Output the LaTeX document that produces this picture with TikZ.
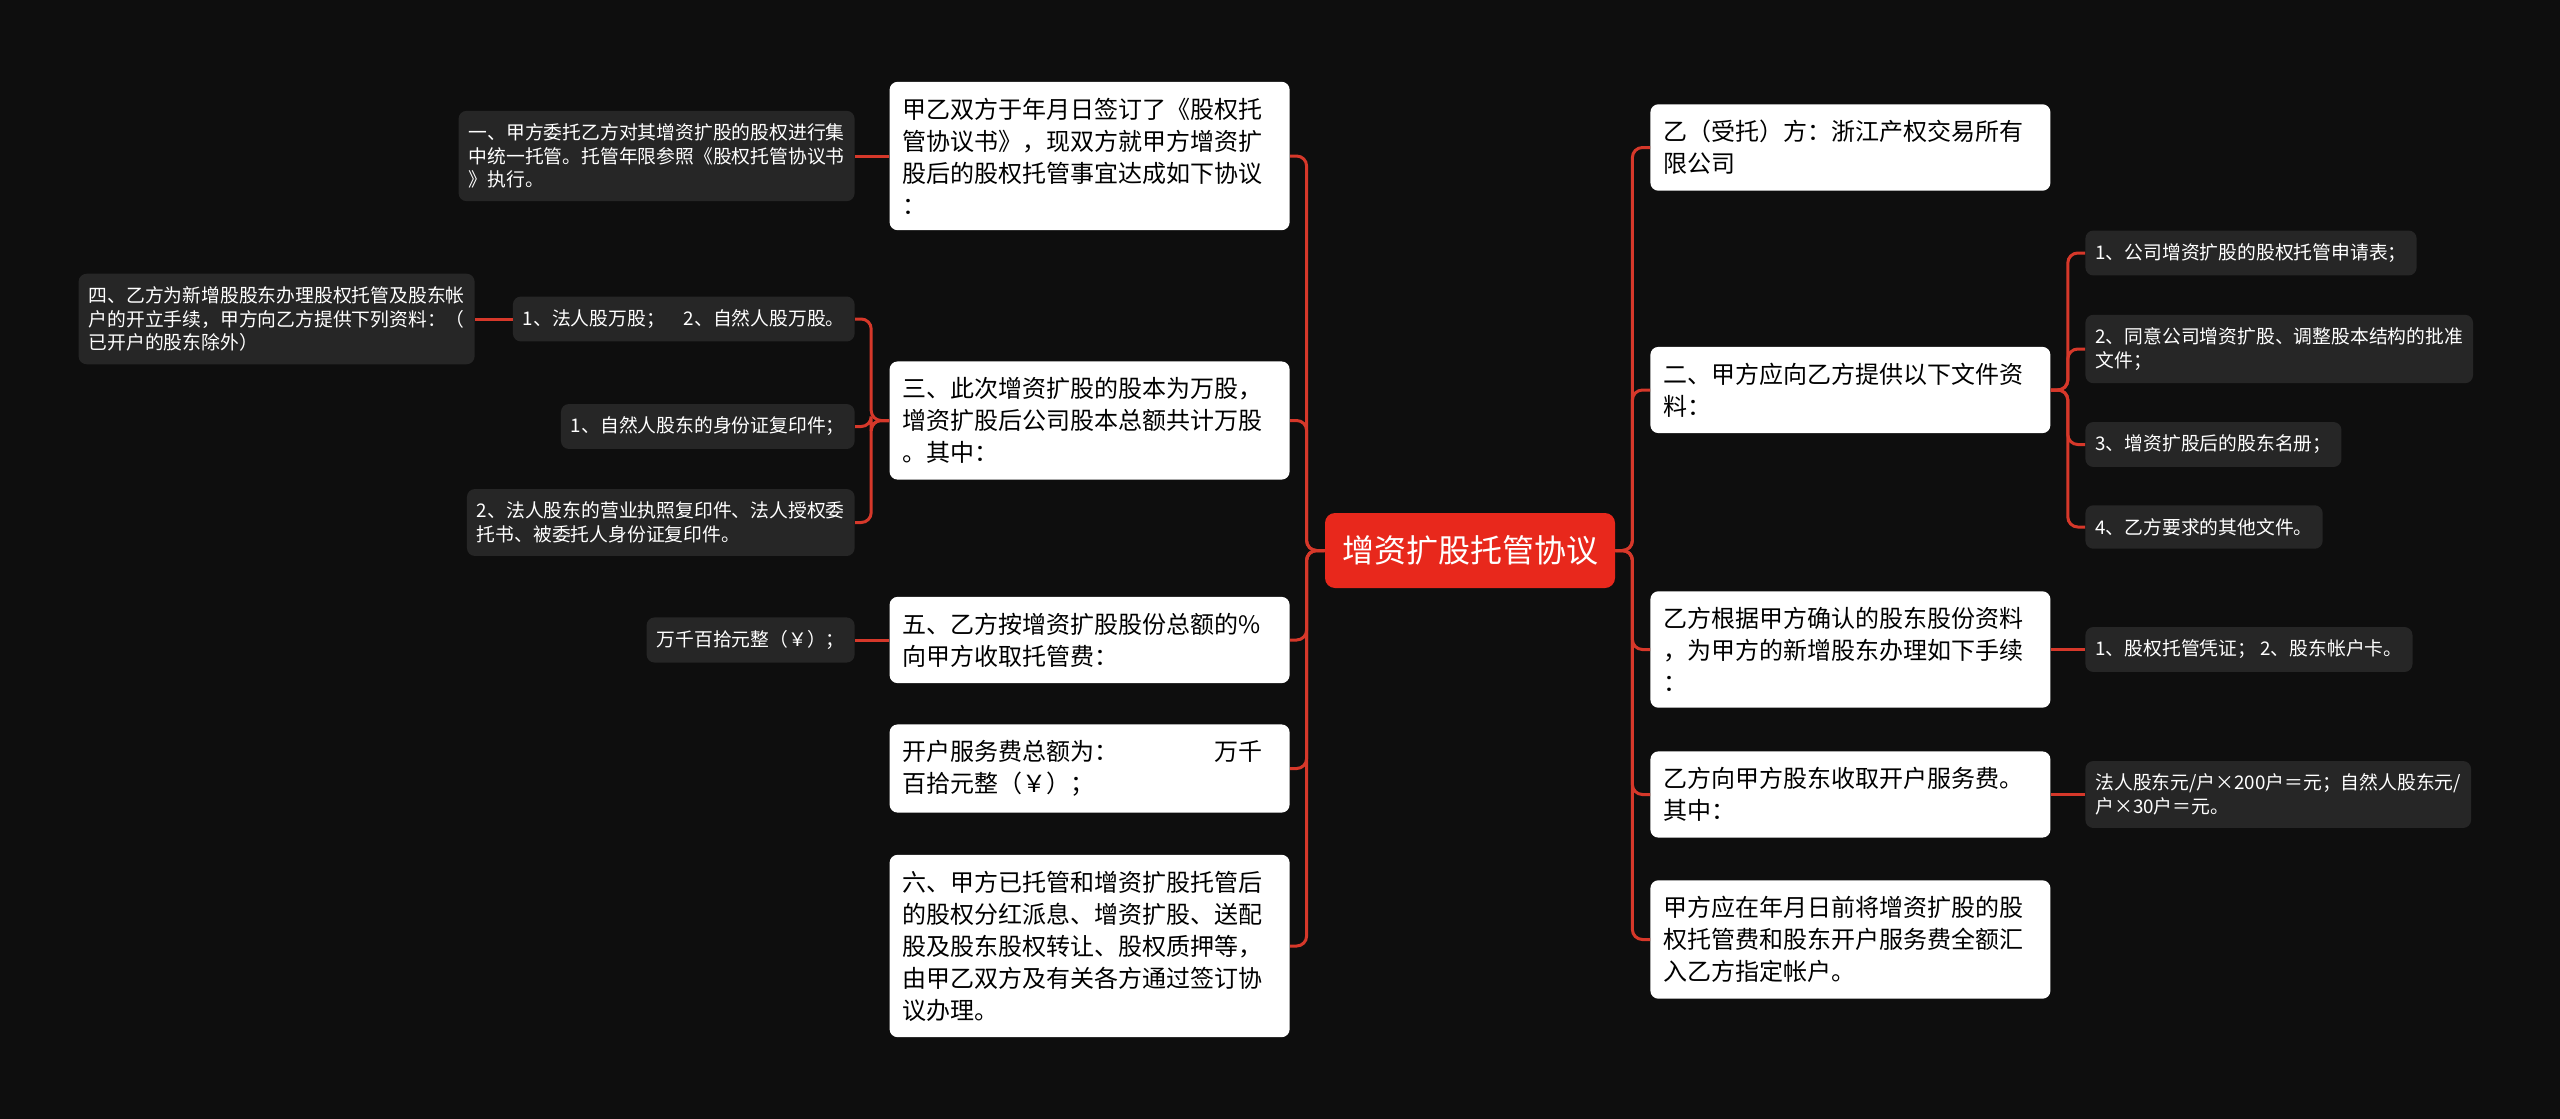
\documentclass[tikz,border=0pt]{standalone}
\usepackage{fontspec}
\setmainfont{Noto Sans CJK SC}
\usepackage{tikz}
\definecolor{bg}{RGB}{14, 14, 14}
\definecolor{cc}{RGB}{38, 38, 38}
\definecolor{rr}{RGB}{214, 56, 42}
\definecolor{hub}{RGB}{232, 40, 28}
\usetikzlibrary{positioning}

\begin{document}
\begin{tikzpicture}[
  main/.style={rectangle, rounded corners=4pt, fill=white, text=black, text width=187pt, align=left, inner xsep=6.5pt, inner ysep=8pt, font=\fontsize{12pt}{16pt}\selectfont},
  leaf/.style={rectangle, rounded corners=4pt, fill=cc, text=white, align=left, inner xsep=5pt, inner ysep=6.5pt, font=\fontsize{9.4pt}{11.7pt}\selectfont},
  link/.style={line width=1.5pt, color=rr, rounded corners=5pt}]
\fill [bg] (0pt, 0pt) rectangle (1280pt, -559.5pt);
\node (0) [rectangle, rounded corners=5pt, fill=hub, text=white, minimum width=145pt, minimum height=37.5pt, font=\fontsize{16pt}{20pt}\selectfont] at (735pt, -275.25pt) {增资扩股托管协议};
\node (1) [main, anchor=east] at (645pt, -78pt) {甲乙双方于年月日签订了《股权托\\管协议书》，现双方就甲方增资扩\\股后的股权托管事宜达成如下协议\\：};
\node (2) [main, anchor=east] at (645pt, -210.25pt) {三、此次增资扩股的股本为万股，\\增资扩股后公司股本总额共计万股\\。其中：};
\node (3) [main, anchor=east] at (645pt, -320pt) {五、乙方按增资扩股股份总额的\%\\向甲方收取托管费：};
\node (4) [main, anchor=east] at (645pt, -384.25pt) {开户服务费总额为：　　　　万千\\百拾元整（￥）；};
\node (5) [main, anchor=east] at (645pt, -473pt) {六、甲方已托管和增资扩股托管后\\的股权分红派息、增资扩股、送配\\股及股东股权转让、股权质押等，\\由甲乙双方及有关各方通过签订协\\议办理。};
\node (6) [main, anchor=west] at (825pt, -73.75pt) {乙（受托）方：浙江产权交易所有\\限公司};
\node (7) [main, anchor=west] at (825pt, -195pt) {二、甲方应向乙方提供以下文件资\\料：};
\node (8) [main, anchor=west] at (825pt, -324.75pt) {乙方根据甲方确认的股东股份资料\\，为甲方的新增股东办理如下手续\\：};
\node (9) [main, anchor=west] at (825pt, -397.25pt) {乙方向甲方股东收取开户服务费。\\其中：};
\node (10) [main, anchor=west] at (825pt, -469.75pt) {甲方应在年月日前将增资扩股的股\\权托管费和股东开户服务费全额汇\\入乙方指定帐户。};
\node (11) [leaf, anchor=east] at (427.5pt, -78pt) {一、甲方委托乙方对其增资扩股的股权进行集\\中统一托管。托管年限参照《股权托管协议书\\》执行。};
\node (12) [leaf, anchor=east] at (427.5pt, -159.5pt) {1、法人股万股；　2、自然人股万股。};
\node (13) [leaf, anchor=east] at (237.5pt, -159.5pt) {四、乙方为新增股股东办理股权托管及股东帐\\户的开立手续，甲方向乙方提供下列资料：（\\已开户的股东除外）};
\node (14) [leaf, anchor=east] at (427.5pt, -213.25pt) {1、自然人股东的身份证复印件；};
\node (15) [leaf, anchor=east] at (427.5pt, -261.25pt) {2、法人股东的营业执照复印件、法人授权委\\托书、被委托人身份证复印件。};
\node (16) [leaf, anchor=east] at (427.5pt, -320pt) {万千百拾元整（￥）；};
\node (17) [leaf, anchor=west] at (1042.5pt, -126.5pt) {1、公司增资扩股的股权托管申请表；};
\node (18) [leaf, anchor=west] at (1042.5pt, -174.5pt) {2、同意公司增资扩股、调整股本结构的批准\\文件；};
\node (19) [leaf, anchor=west] at (1042.5pt, -222.25pt) {3、增资扩股后的股东名册；};
\node (20) [leaf, anchor=west] at (1042.5pt, -263.5pt) {4、乙方要求的其他文件。};
\node (21) [leaf, anchor=west] at (1042.5pt, -324.75pt) {1、股权托管凭证； 2、股东帐户卡。};
\node (22) [leaf, anchor=west] at (1042.5pt, -397.25pt) {法人股东元/户×200户＝元；自然人股东元/\\户×30户＝元。};
\draw [link] (0.west) -- ++(-9pt, 0pt) |- (1.east);
\draw [link] (0.west) -- ++(-9pt, 0pt) |- (2.east);
\draw [link] (0.west) -- ++(-9pt, 0pt) |- (3.east);
\draw [link] (0.west) -- ++(-9pt, 0pt) |- (4.east);
\draw [link] (0.west) -- ++(-9pt, 0pt) |- (5.east);
\draw [link] (0.east) -- ++(8.5pt, 0pt) |- (6.west);
\draw [link] (0.east) -- ++(8.5pt, 0pt) |- (7.west);
\draw [link] (0.east) -- ++(8.5pt, 0pt) |- (8.west);
\draw [link] (0.east) -- ++(8.5pt, 0pt) |- (9.west);
\draw [link] (0.east) -- ++(8.5pt, 0pt) |- (10.west);
\draw [link] (1.west) -- (11.east);
\draw [link] (2.west) -- ++(-9pt, 0pt) |- (12.east);
\draw [link] (2.west) -- ++(-9pt, 0pt) |- (14.east);
\draw [link] (2.west) -- ++(-9pt, 0pt) |- (15.east);
\draw [link] (12.west) -- (13.east);
\draw [link] (3.west) -- (16.east);
\draw [link] (7.east) -- ++(8.5pt, 0pt) |- (17.west);
\draw [link] (7.east) -- ++(8.5pt, 0pt) |- (18.west);
\draw [link] (7.east) -- ++(8.5pt, 0pt) |- (19.west);
\draw [link] (7.east) -- ++(8.5pt, 0pt) |- (20.west);
\draw [link] (8.east) -- (21.west);
\draw [link] (9.east) -- (22.west);
\end{tikzpicture}
\end{document}
